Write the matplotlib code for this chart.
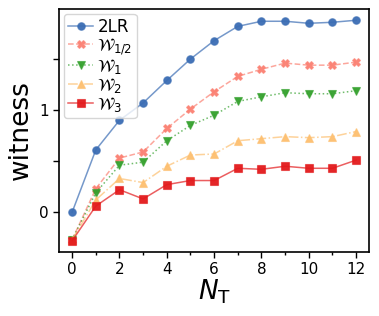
import matplotlib
matplotlib.use("Agg")
import matplotlib.pyplot as plt
from matplotlib.colors import to_rgba
import numpy as np

NT = list(range(13))
two_lr = [0.00, 0.61, 0.90, 1.07, 1.29, 1.50, 1.68, 1.82, 1.87, 1.87, 1.85, 1.86, 1.88]
w_half = [-0.27, 0.23, 0.53, 0.59, 0.82, 1.01, 1.18, 1.33, 1.40, 1.46, 1.44, 1.44, 1.47]
w_1 = [-0.27, 0.19, 0.46, 0.49, 0.70, 0.85, 0.95, 1.085, 1.13, 1.17, 1.16, 1.16, 1.19]
w_2 = [-0.27, 0.12, 0.33, 0.29, 0.45, 0.56, 0.57, 0.70, 0.72, 0.74, 0.73, 0.74, 0.79]
w_3 = [-0.28, 0.06, 0.22, 0.13, 0.27, 0.31, 0.31, 0.43, 0.42, 0.45, 0.43, 0.43, 0.51]

series = [
    ("2LR", two_lr, "#3b6db4", "o", "-"),
    (r"$\mathcal{W}_{1/2}$", w_half, "#fb8072", "X", "--"),
    (r"$\mathcal{W}_{1}$", w_1, "#33a02c", "v", ":"),
    (r"$\mathcal{W}_{2}$", w_2, "#fdbf6f", "^", "-."),
    (r"$\mathcal{W}_{3}$", w_3, "#e31a1c", "s", "-"),
]

fig = plt.figure(figsize=(3.79, 3.16), dpi=100)
ax = fig.add_axes([0.156, 0.2025, 0.818, 0.769])

for label, vals, col, mk, ls in series:
    ax.plot(NT, vals, linestyle=ls, color=to_rgba(col, 0.7), lw=1.1,
            marker=mk, markersize=5.5, markerfacecolor=to_rgba(col, 0.95),
            markeredgecolor=to_rgba(col, 0.6), markeredgewidth=0.8, label=label)

ax.set_xlim(-0.55, 12.55)
ax.set_ylim(-0.39, 1.99)
ax.set_xticks(range(0, 13, 2))
ax.set_xticks(range(1, 13, 2), minor=True)
ax.set_yticks([0, 0.5, 1, 1.5])
ax.set_yticklabels(["0", "", "1", ""])
ax.tick_params(which="major", labelsize=11, length=4, width=1)
ax.tick_params(which="minor", length=2, width=1)
for s in ax.spines.values():
    s.set_linewidth(1.2)

ax.set_xlabel(r"$N_\mathrm{T}$", fontsize=19, labelpad=0)
ax.set_ylabel("witness", fontsize=19, labelpad=4)

leg = ax.legend(loc="upper left", fontsize=12, labelspacing=0.0,
                handlelength=1.5, handletextpad=0.25, borderpad=0.25,
                borderaxespad=0.3, framealpha=0.8)

fig.savefig("out.png", dpi=100)
